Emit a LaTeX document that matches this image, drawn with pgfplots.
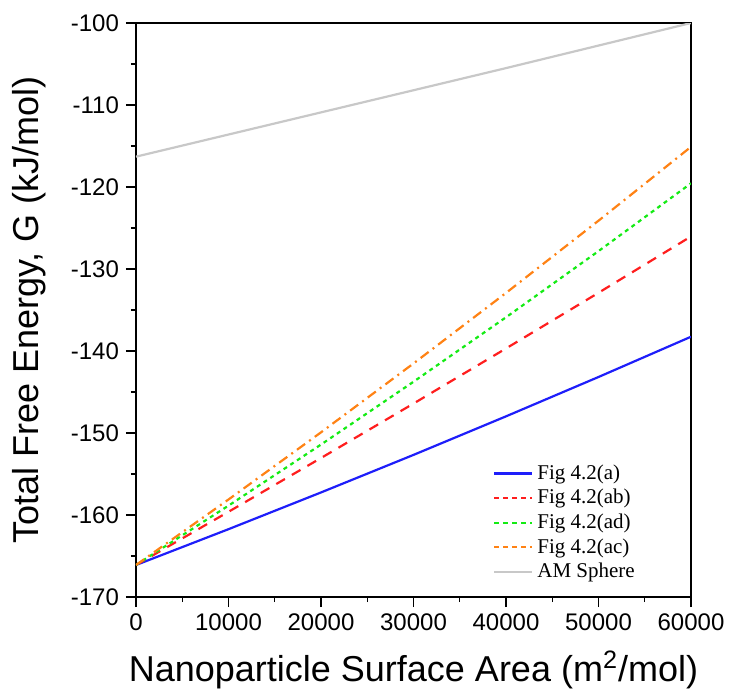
\documentclass[border=0pt]{standalone}
\usepackage{pgfplots}
\pgfplotsset{compat=1.18}
\usepackage{fontspec}
\setmainfont{Liberation Sans}
\newfontfamily\legfont{Liberation Serif}
\definecolor{cblue}{RGB}{30,30,250}
\definecolor{cred}{RGB}{255,30,30}
\definecolor{cgreen}{RGB}{20,235,20}
\definecolor{corange}{RGB}{255,130,20}
\definecolor{cgray}{RGB}{200,200,200}
\begin{document}
\begin{tikzpicture}
\path[use as bounding box] (-68pt,-50pt) rectangle (296.5pt,298.5pt);
\begin{axis}[
  at={(0pt,0pt)}, anchor=south west,
  scale only axis, width=277.5pt, height=287pt,
  xmin=0, xmax=60000, ymin=-170, ymax=-100,
  xtick={0,10000,...,60000}, ytick={-170,-160,...,-100},
  minor x tick num=1, minor y tick num=1,
  scaled x ticks=false,
  xticklabel style={/pgf/number format/1000 sep={}},
  /pgf/number format/assume math mode=true,
  tick align=outside, tick pos=left,
  major tick length=5pt, minor tick length=2.5pt,
  every tick/.style={black, line width=0.6pt},
  axis line style={black, line width=0.8pt},
  tick label style={font=\fontsize{12}{14}\selectfont},
  xlabel={Nanoparticle Surface Area (m\textsuperscript{2}/mol)},
  ylabel={Total Free Energy, G (kJ/mol)},
  label style={font=\fontsize{18}{20}\selectfont},
  xlabel style={at={(axis description cs:0.5,-0.127)}, anchor=center},
  ylabel style={at={(axis description cs:-0.193,0.5)}, anchor=center},
  legend cell align=left,
  legend image code/.code={\draw[#1] (0pt,0pt) -- (19pt,0pt);},
  legend style={draw=none, fill=none, at={(rel axis cs:0.632,0.245)}, anchor=north west,
    font=\legfont\fontsize{10.5}{12}\selectfont, row sep=-0.5pt},
]
\addplot[cblue, line width=1.1pt] coordinates {
(0,-166.1) (10000,-161.73) (20000,-157.25) (30000,-152.67) (40000,-147.97) (50000,-143.17) (60000,-138.26)};
\addlegendentry{Fig 4.2(a)}
\addplot[cred, line width=1.1pt, dash pattern=on 5pt off 4pt, legend image post style={dash pattern=on 2.5pt off 2pt}] coordinates {
(0,-166.1) (10000,-159.61) (20000,-153.05) (30000,-146.41) (40000,-139.69) (50000,-132.9) (60000,-126.03)};
\addlegendentry{Fig 4.2(ab)}
\addplot[cgreen, line width=1.1pt, dash pattern=on 2pt off 2pt, legend image post style={dash pattern=on 2.5pt off 2pt}] coordinates {
(0,-166.1) (10000,-158.86) (20000,-151.41) (30000,-143.75) (40000,-135.89) (50000,-127.82) (60000,-119.55)};
\addlegendentry{Fig 4.2(ad)}
\addplot[corange, line width=1.1pt, dash pattern=on 5pt off 2.5pt on 1pt off 2.5pt, legend image post style={dash pattern=on 2.5pt off 2pt}] coordinates {
(0,-166.1) (10000,-158.11) (20000,-149.92) (30000,-141.52) (40000,-132.92) (50000,-124.11) (60000,-115.1)};
\addlegendentry{Fig 4.2(ac)}
\addplot[cgray, line width=1.1pt] coordinates {
(0,-116.3) (20000,-110.9) (40000,-105.5) (60000,-100.0)};
\addlegendentry{AM Sphere}
\end{axis}
\end{tikzpicture}
\end{document}
